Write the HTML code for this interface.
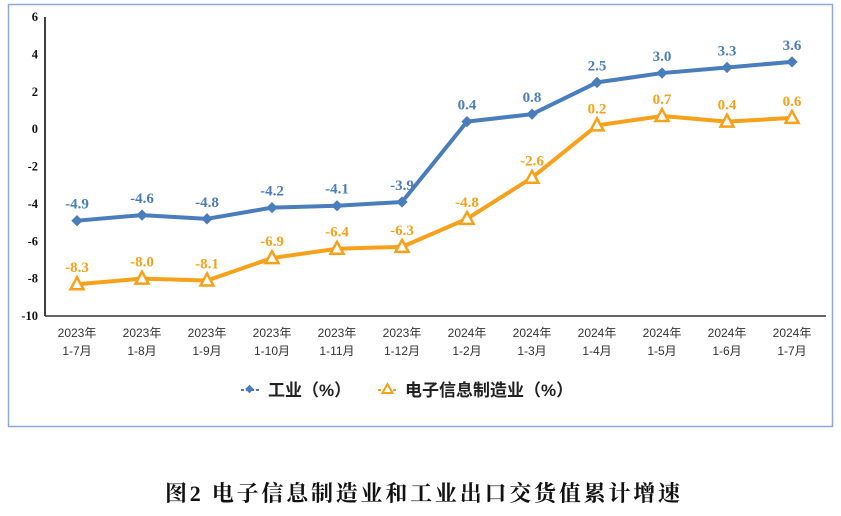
<!DOCTYPE html>
<html><head><meta charset="utf-8"><style>
body{margin:0;background:#fff;width:841px;height:511px;overflow:hidden;font-family:"Liberation Serif","Noto Serif CJK SC",serif}
</style></head><body>
<svg id="chart" width="841" height="511">
<rect x="8.5" y="4.5" width="824" height="422" fill="#fff" stroke="#8eaad0" stroke-width="1.5"/>
<line x1="45" y1="17" x2="45" y2="316" stroke="#000" stroke-width="1.5"/>
<line x1="45" y1="316" x2="826" y2="316" stroke="#333" stroke-width="1.5"/>
<g id="yt"></g><g id="xt"></g><g id="series"></g>
<g>
<g>
<line x1="241" y1="390" x2="260" y2="390" stroke="#4a7dbb" stroke-width="2" stroke-dasharray="3,2"/>
<rect x="246.5" y="386" width="6" height="6" fill="#4a7dbb" transform="rotate(45 249.5 389)"/>
<text x="268" y="396" font-size="17" font-weight="bold" font-family="Liberation Sans,Noto Sans CJK SC,sans-serif" fill="#222">工业（%）</text></g>
<g>
<line x1="378" y1="390" x2="397" y2="390" stroke="#f7a11a" stroke-width="2" stroke-dasharray="3,2"/>
<polygon points="387.5,384 392.5,393 382.5,393" fill="#fff" stroke="#f7a11a" stroke-width="2"/>
<text x="405" y="396" font-size="17" font-weight="bold" font-family="Liberation Sans,Noto Sans CJK SC,sans-serif" fill="#222">电子信息制造业（%）</text></g>
</g>
<text x="165" y="501" textLength="515" lengthAdjust="spacing" font-size="22" font-weight="bold" fill="#111" font-family="Liberation Serif,Noto Serif CJK SC,serif">图2 电子信息制造业和工业出口交货值累计增速</text>
</svg>
<script>
const categoriesYear=["2023年","2023年","2023年","2023年","2023年","2023年","2024年","2024年","2024年","2024年","2024年","2024年"];
const categoriesMonth=["1-7月","1-8月","1-9月","1-10月","1-11月","1-12月","1-2月","1-3月","1-4月","1-5月","1-6月","1-7月"];
const industry=[-4.9,-4.6,-4.8,-4.2,-4.1,-3.9,0.4,0.8,2.5,3.0,3.3,3.6];
const electronics=[-8.3,-8.0,-8.1,-6.9,-6.4,-6.3,-4.8,-2.6,0.2,0.7,0.4,0.6];
const yTicks=[6,4,2,0,-2,-4,-6,-8,-10];
const NS="http://www.w3.org/2000/svg";
const X=i=>77+i*65, Y=v=>17+(6-v)*(299/16);
function mk(tag,attrs,parent,txt){const e=document.createElementNS(NS,tag);for(const k in attrs)e.setAttribute(k,attrs[k]);if(txt!==undefined)e.textContent=txt;parent.appendChild(e);return e;}
const yt=document.getElementById('yt'),xt=document.getElementById('xt'),sg=document.getElementById('series');
yTicks.forEach(v=>{const t=mk('text',{x:38,y:Y(v)+4,'text-anchor':'end','font-size':12.5,'font-weight':'bold',fill:'#111'},yt,String(v));

});
categoriesYear.forEach((c,i)=>{const t=mk('text',{x:X(i),y:337,'text-anchor':'middle','font-size':12,fill:'#333','font-family':'Liberation Sans,Noto Sans CJK SC,sans-serif'},xt,c);


const t2=mk('text',{x:X(i),y:355,'text-anchor':'middle','font-size':12,fill:'#333','font-family':'Liberation Sans,Noto Sans CJK SC,sans-serif'},xt,categoriesMonth[i]);

});
function series(data,color,name,marker){
const p=mk('polyline',{points:data.map((v,i)=>X(i)+','+Y(v)).join(' '),fill:'none',stroke:color,'stroke-width':4,'stroke-linejoin':'round'},sg);


data.forEach((v,i)=>{const x=X(i),y=Y(v);let m;
if(marker==='d'){m=mk('rect',{x:x-4,y:y-4,width:8,height:8,fill:color,transform:`rotate(45 ${x} ${y})`},sg);}
else{m=mk('polygon',{points:`${x},${y-7} ${x+6.5},${y+5} ${x-6.5},${y+5}`,fill:'#fff',stroke:color,'stroke-width':2.5},sg);}


const l=mk('text',{x:x,y:y-12,'text-anchor':'middle','font-size':15,'font-weight':'bold',fill:color},sg,v.toFixed(1));

});}
series(electronics,'#f7a11a','electronics','t');
series(industry,'#4a7dbb','industry','d');
</script>
</body></html>
